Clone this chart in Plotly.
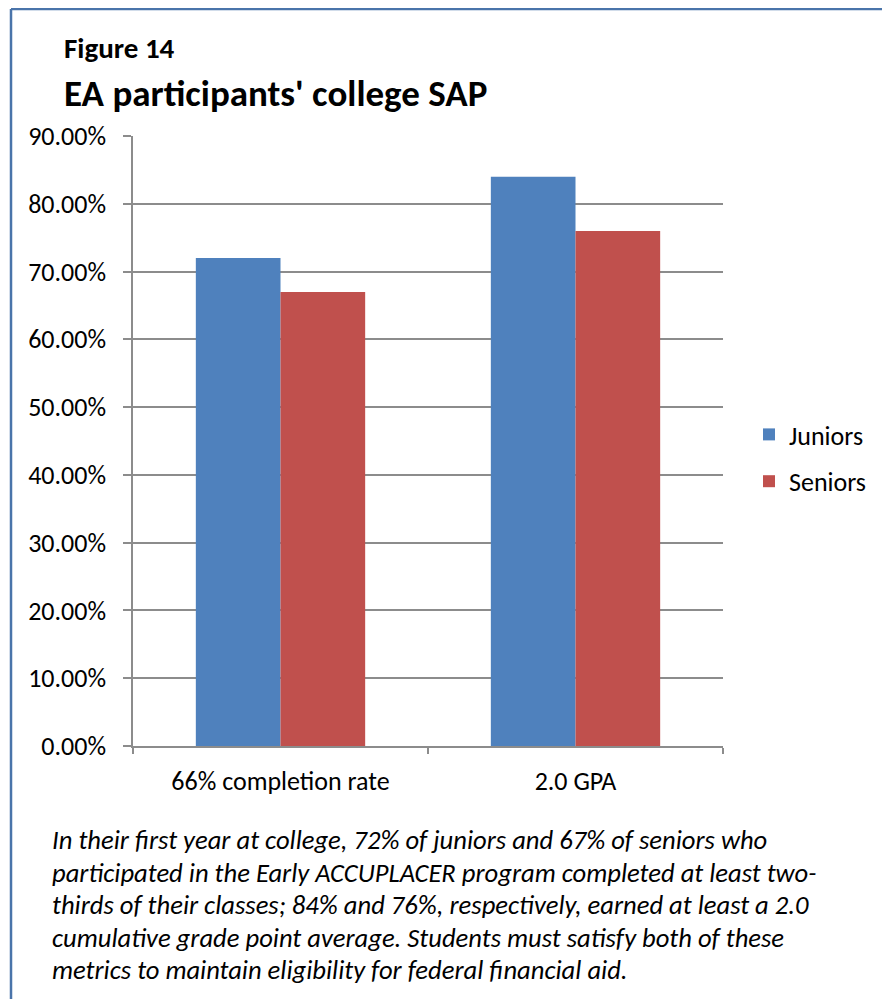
import plotly.graph_objects as go

categories = ["66% completion rate", "2.0 GPA"]
juniors = [0.72, 0.84]
seniors = [0.67, 0.76]
series_names = ["Juniors", "Seniors"]
y_ticks = [0, 0.1, 0.2, 0.3, 0.4, 0.5, 0.6, 0.7, 0.8, 0.9]
caption_lines = [
    "In their first year at college, 72% of juniors and 67% of seniors who",
    "participated in the Early ACCUPLACER program completed at least two-",
    "thirds of their classes; 84% and 76%, respectively, earned at least a 2.0",
    "cumulative grade point average. Students must satisfy both of these",
    "metrics to maintain eligibility for federal financial aid.",
]

# page has an 8px body margin, so figure pixel = screen pixel - 8
W, H = 882, 991
L, R, T, B = 125, 715, 128, 738
FONT = "Calibri, Carlito, Lato, sans-serif"

def px(x):
    return (x - L) / (R - L)

def py(y):
    return (B - y) / (B - T)

fig = go.Figure()
fig.add_trace(go.Bar(x=categories, y=juniors, name=series_names[0], marker_color="#4F81BD",
                     marker_line_width=0, legendgroup="a"))
fig.add_trace(go.Bar(x=categories, y=seniors, name=series_names[1], marker_color="#C0504D",
                     marker_line_width=0, legendgroup="b"))

fig.update_layout(
    width=W, height=H,
    margin=dict(l=L, r=W - R, t=T, b=H - B),
    plot_bgcolor="white", paper_bgcolor="white",
    bargap=0.426, bargroupgap=0,
    font=dict(family=FONT, size=26, color="black"),
    showlegend=True,
    legend=dict(x=px(741), y=py(403), xanchor="left", yanchor="top",
                font=dict(size=26), tracegroupgap=10, traceorder="grouped",
                bgcolor="rgba(0,0,0,0)"),
)
fig.update_yaxes(range=[0, 0.9], tickvals=y_ticks, tickformat=".2%",
                 showgrid=True, gridcolor="#8c8c8c", gridwidth=1.5,
                 showline=True, linecolor="#8c8c8c", linewidth=1.5,
                 ticks="outside", ticklen=8, tickcolor="#8c8c8c", tickwidth=1.5,
                 zeroline=False, tickfont=dict(size=26, family=FONT), ticklabelstandoff=12)
fig.update_xaxes(showline=True, linecolor="#8c8c8c", linewidth=1.5,
                 ticks="outside", tickson="boundaries", ticklen=6, tickcolor="#8c8c8c", tickwidth=1.5,
                 tickfont=dict(size=26, family=FONT), ticklabelstandoff=11)

# border
fig.add_shape(type="line", xref="paper", yref="paper", x0=px(3), x1=px(890), y0=py(1), y1=py(1),
              line=dict(color="#4A74AA", width=2.5))
fig.add_shape(type="line", xref="paper", yref="paper", x0=px(3), x1=px(3), y0=py(1), y1=py(995),
              line=dict(color="#4A74AA", width=2.5))

fig.add_annotation(text="<b>Figure 14</b>", xref="paper", yref="paper", x=px(54), y=py(40),
                   xanchor="left", yanchor="middle", showarrow=False, font=dict(size=29, family=FONT))
fig.add_annotation(text="<b>EA participants' college SAP</b>", xref="paper", yref="paper", x=px(54), y=py(85),
                   xanchor="left", yanchor="middle", showarrow=False, font=dict(size=37, family=FONT))

for i, line in enumerate(caption_lines):
    fig.add_annotation(text="<i>" + line + "</i>", xref="paper", yref="paper", x=px(42), y=py(832 + 32.5 * i),
                       xanchor="left", yanchor="middle", align="left", showarrow=False,
                       font=dict(size=26.6, family=FONT))

fig.write_html("out.html")
